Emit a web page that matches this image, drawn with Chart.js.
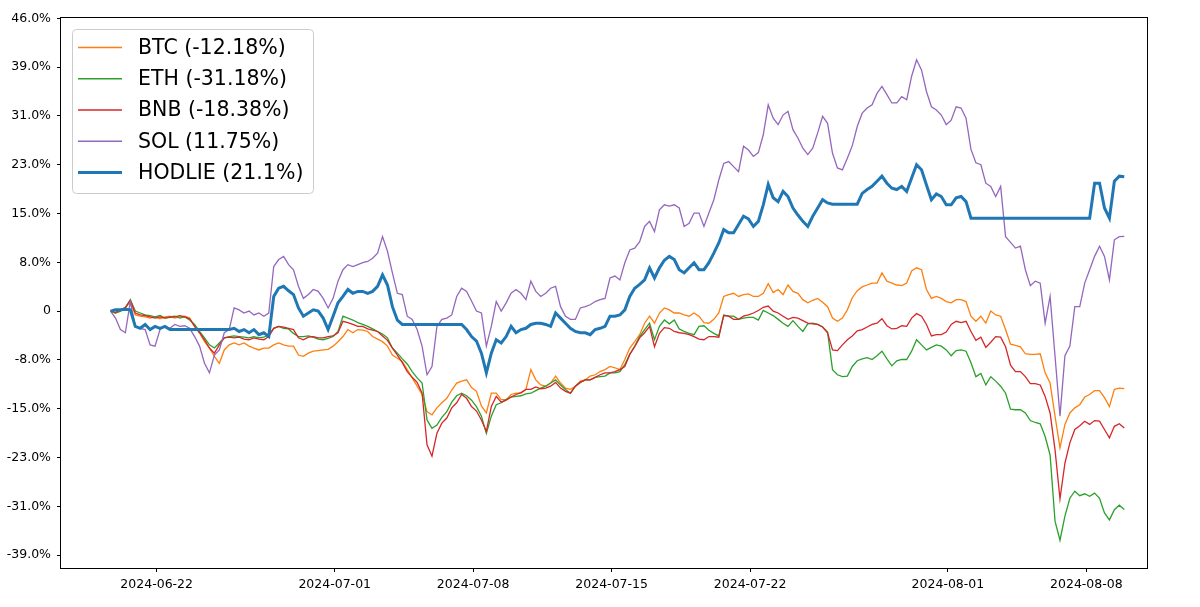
<!DOCTYPE html>
<html>
<head>
<meta charset="utf-8">
<title>HODLIE vs coins</title>
<script src="https://cdn.jsdelivr.net/npm/chart.js@4.4.1/dist/chart.umd.min.js"></script>
<style>
    html, body { margin: 0; padding: 0; background: #fff; }
    #wrap { width: 1200px; height: 607px; position: relative; }
</style>
</head>
<body>
<div id="wrap"><canvas id="perfChart"></canvas></div>
<script>
// one sample every 6 hours, first one 2024-06-19 16:00 UTC
const startTime = Date.UTC(2024, 5, 19, 16);
const stepHours = 6;

// cumulative return in %
const btc = [
    0, -0.3, 0, 0.5, 1.5, -0.6, -0.8, -0.9, -1.1, -0.9,
    -1.2, -0.9, -0.8, -1.1, -0.9, -0.8, -1.1, -2.4, -3.4, -4.8,
    -5.8, -7.1, -8.2, -6.1, -5.3, -5.0, -5.3, -5.0, -5.5, -5.8,
    -6.1, -5.8, -5.8, -5.3, -5.0, -5.3, -5.5, -5.5, -6.9, -7.1,
    -6.6, -6.3, -6.2, -6.1, -6.0, -5.5, -4.8, -4.0, -2.9, -3.4,
    -2.9, -3.0, -3.2, -4.0, -4.4, -4.8, -5.5, -6.9, -7.4, -7.9,
    -9.2, -10.5, -11.8, -13.1, -15.8, -16.3, -15.2, -14.4, -13.7, -12.4,
    -11.3, -11.0, -10.8, -12.0, -12.6, -14.9, -16.0, -12.9, -12.9, -13.9,
    -13.9, -13.1, -12.9, -12.9, -12.3, -9.2, -10.8, -11.6, -11.8, -11.3,
    -10.2, -11.3, -12.1, -12.3, -11.8, -11.0, -10.8, -10.2, -10.0, -9.5,
    -9.2, -8.7, -8.9, -9.2, -7.6, -5.8, -4.8, -3.7, -1.9, -0.8,
    -1.9, -0.3, 0.5, 0.2, -0.3, -0.3, -0.6, -0.8, -0.3, -0.8,
    -1.8, -1.9, -1.3, -0.3, 2.3, 2.6, 2.8, 2.3, 2.6, 2.7,
    2.3, 2.3, 2.8, 4.3, 2.9, 3.4, 2.6, 4.1, 3.1, 2.8,
    1.8, 1.3, 1.7, 2.0, 1.4, 0.7, -1.1, -1.6, -1.1, 0.2,
    2.1, 3.2, 3.8, 4.1, 4.4, 4.4, 6.0, 4.7, 4.4, 4.1,
    4.0, 4.4, 6.3, 6.8, 6.5, 3.4, 2.0, 2.3, 2.0, 1.5,
    1.3, 1.8, 1.8, 1.5, -0.8, -1.6, -0.8, -1.9, 0, -0.6,
    -0.8, -2.9, -5.2, -5.4, -5.6, -6.7, -6.8, -6.8, -6.7, -9.7,
    -11.3, -16.5, -21.5, -17.8, -16.0, -15.2, -14.7, -13.5, -13.1, -12.5,
    -12.5, -13.6, -15.0, -12.3, -12.1, -12.18
];

const eth = [
    0, -0.3, 0, 0.5, 1.8, 0, -0.3, -0.6, -0.7, -0.9,
    -0.7, -1.1, -0.9, -0.8, -1.1, -0.9, -1.4, -2.1, -3.2, -4.2,
    -5.3, -5.8, -5.0, -4.2, -4.0, -3.9, -4.0, -4.1, -4.2, -4.0,
    -4.2, -4.1, -3.7, -2.7, -2.4, -2.7, -2.8, -3.5, -4.0, -4.0,
    -3.9, -4.1, -4.4, -4.5, -4.3, -4.0, -3.2, -0.8, -1.1, -1.4,
    -1.8, -2.1, -2.4, -2.8, -3.2, -3.6, -4.2, -5.8, -6.6, -7.5,
    -8.3, -9.5, -10.5, -11.3, -17.1, -18.4, -17.9, -16.7, -15.8, -14.3,
    -13.3, -12.9, -13.3, -14.0, -15.0, -16.5, -19.2, -16.5, -14.7, -14.4,
    -13.9, -13.5, -13.4, -13.3, -13.0, -12.9, -12.5, -12.1, -11.8, -11.3,
    -10.8, -11.6, -12.3, -12.9, -11.8, -11.2, -10.8, -10.8, -10.4, -10.3,
    -10.2, -9.7, -9.7, -9.5, -8.4, -6.8, -5.5, -4.0, -2.9, -1.9,
    -4.5, -2.4, -1.4, -2.0, -1.4, -2.8, -3.2, -3.5, -3.7, -2.4,
    -2.3, -3.0, -3.5, -3.9, -0.6, -0.8, -0.8, -1.3, -1.1, -1.0,
    -1.0, -1.4, 0.1, -0.3, -0.7, -1.3, -1.9, -2.4, -1.5, -2.4,
    -3.2, -2.0, -1.9, -2.1, -2.5, -3.3, -9.2, -10.0, -10.3, -10.2,
    -8.7, -7.8, -7.5, -7.3, -7.6, -7.0, -6.3, -7.5, -8.6, -7.8,
    -7.6, -7.6, -6.3, -4.5, -5.3, -6.1, -5.7, -5.3, -5.5, -6.1,
    -7.0, -6.2, -6.1, -6.3, -8.1, -10.3, -9.8, -11.6, -10.3, -11.0,
    -11.8, -12.9, -15.4, -15.5, -15.5, -16.0, -17.2, -17.5, -17.7, -19.7,
    -22.6, -33.0, -36.0, -32.2, -29.4, -28.3, -29.0, -28.7, -29.1, -28.6,
    -29.4, -31.7, -32.8, -31.2, -30.5, -31.18
];

const bnb = [
    0, -0.2, 0.2, 0.6, 1.7, -0.3, -0.6, -0.7, -0.9, -1.1,
    -0.9, -1.1, -1.0, -0.9, -0.7, -0.9, -1.2, -2.4, -3.4, -4.5,
    -5.8, -6.6, -5.3, -4.2, -4.1, -4.2, -4.1, -4.4, -4.5, -4.2,
    -4.4, -4.5, -4.0, -2.7, -2.4, -2.5, -2.7, -2.9, -4.2, -4.5,
    -4.1, -4.0, -4.2, -4.2, -4.0, -3.9, -3.4, -1.6, -1.8, -2.1,
    -2.4, -2.4, -2.8, -3.0, -3.2, -3.9, -4.6, -5.8, -6.9, -8.1,
    -9.5, -10.4, -11.2, -12.9, -21.0, -22.8, -19.2, -17.6, -16.8, -15.2,
    -14.4, -13.1, -13.7, -15.0, -15.7, -17.1, -18.9, -15.0, -13.4, -14.3,
    -14.0, -13.5, -13.1, -12.8, -12.3, -12.3, -11.9, -12.2, -12.1, -11.8,
    -11.2, -12.1, -12.6, -12.9, -11.8, -11.2, -10.8, -10.8, -10.4, -10.0,
    -9.7, -9.7, -9.5, -9.2, -8.7, -6.8, -5.6, -4.2, -3.4, -2.4,
    -5.6, -3.5, -2.6, -2.7, -3.2, -3.4, -3.5, -3.7, -4.0, -4.4,
    -4.5, -4.0, -4.0, -4.1, -0.7, -0.8, -1.3, -1.3, -0.8, -0.6,
    -0.3, 0.1, 0.6, 0.8, 0, -0.3, -0.8, -1.3, -1.0, -1.1,
    -1.5, -1.9, -2.0, -2.1, -2.5, -3.4, -6.1, -6.2, -5.3, -4.5,
    -3.9, -3.1, -2.9, -2.5, -2.1, -1.9, -1.2, -2.3, -2.8, -2.7,
    -2.3, -2.4, -1.1, -0.4, -0.8, -2.1, -3.9, -3.7, -3.7, -3.3,
    -2.1, -1.6, -1.8, -1.6, -3.2, -4.6, -4.1, -5.7, -4.9, -4.0,
    -4.1, -5.6, -8.5, -9.5, -9.5, -10.3, -11.4, -11.4, -11.6, -13.4,
    -16.0, -21.8, -29.5, -23.9, -20.7, -18.6, -18.0, -17.3, -17.8, -17.2,
    -17.3, -18.6, -19.9, -18.1, -17.7, -18.38
];

const sol = [
    0, -1.1, -2.9, -3.4, 1.5, -2.4, -2.7, -2.9, -5.3, -5.5,
    -2.9, -2.4, -2.7, -2.1, -2.4, -2.3, -2.7, -4.0, -5.5, -8.2,
    -9.7, -6.9, -6.1, -3.4, -2.9, 0.5, 0.2, -0.3, 0, -0.6,
    -0.3, -0.8, -0.3, 7.0, 8.1, 8.6, 7.3, 6.5, 3.9, 2.0,
    2.6, 3.4, 3.1, 2.0, 0.5, 2.0, 4.7, 6.5, 7.3, 7.0,
    7.3, 7.6, 7.8, 8.3, 9.1, 11.7, 9.4, 6.0, 2.8, 2.6,
    -0.8, -1.3, -2.9, -5.5, -10.0, -8.7, -2.4, -1.3, -1.1, -0.6,
    2.3, 3.6, 3.1, 1.6, 0, -0.3, -5.5, -2.4, 1.5, 0,
    1.3, 2.8, 3.4, 2.8, 1.8, 4.7, 3.1, 2.3, 2.8, 3.6,
    3.9, 0.7, -0.8, -1.3, -1.3, 0.5, 0.7, 1.0, 1.5, 1.8,
    2.0, 5.2, 5.5, 4.9, 7.6, 9.6, 9.9, 10.9, 13.3, 14.1,
    12.5, 15.9, 16.7, 16.5, 16.7, 16.2, 13.3, 13.8, 15.4, 15.4,
    13.3, 15.4, 17.5, 20.6, 23.2, 23.5, 22.7, 21.9, 25.9, 25.3,
    24.3, 24.9, 27.7, 32.4, 30.3, 29.3, 30.8, 31.4, 28.5, 27.2,
    25.6, 24.6, 25.6, 28.0, 30.6, 29.5, 24.8, 22.5, 22.2, 24.0,
    26.0, 29.0, 31.1, 31.9, 32.4, 34.2, 35.3, 34.0, 32.7, 32.7,
    33.7, 33.2, 36.9, 39.5, 37.9, 34.5, 32.1, 31.6, 30.8, 29.3,
    30.0, 32.1, 31.9, 30.3, 25.4, 23.3, 23.0, 20.1, 19.6, 18.0,
    19.6, 11.7, 10.8, 9.9, 10.2, 6.5, 4.0, 4.7, 4.4, -1.9,
    2.3, -7.1, -16.5, -7.0, -5.5, 0.7, 0.7, 4.4, 6.5, 8.6,
    10.2, 8.6, 4.9, 11.2, 11.7, 11.75
];

const hodlie = [
    0, 0.2, 0.2, 0.3, 0.2, -2.4, -2.7, -2.1, -2.9, -2.4,
    -2.7, -2.4, -2.9, -2.9, -2.9, -2.9, -2.9, -2.9, -2.9, -2.9,
    -2.9, -2.9, -2.9, -2.9, -2.9, -2.7, -3.2, -2.9, -3.4, -2.9,
    -3.7, -3.4, -4.0, 2.3, 3.6, 3.9, 3.2, 2.6, 0.5, -0.8,
    -0.3, 0.2, 0, -1.1, -2.9, -0.8, 1.3, 2.3, 3.4, 2.8,
    3.1, 3.1, 2.8, 3.1, 3.9, 5.7, 4.1, 0.7, -1.4, -2.1,
    -2.1, -2.1, -2.1, -2.1, -2.1, -2.1, -2.1, -2.1, -2.1, -2.1,
    -2.1, -2.1, -2.9, -4.0, -4.7, -6.6, -9.7, -6.6, -4.5, -5.0,
    -4.0, -2.4, -3.4, -2.9, -2.7, -2.1, -1.9, -1.9, -2.1, -2.4,
    -0.3, -1.1, -1.9, -2.7, -3.2, -3.4, -3.4, -3.7, -2.9, -2.7,
    -2.4, -0.8, -0.8, -0.6, 0.2, 2.3, 3.6, 4.2, 4.9, 6.8,
    5.2, 6.8, 8.0, 8.6, 8.1, 6.5, 6.0, 6.8, 7.6, 6.5,
    6.5, 7.6, 9.1, 10.7, 12.8, 12.3, 12.3, 13.6, 14.9, 14.5,
    13.3, 14.1, 16.7, 19.9, 17.8, 17.2, 18.8, 18.0, 16.2, 15.1,
    14.1, 13.3, 14.9, 16.2, 17.5, 17.0, 16.8, 16.8, 16.8, 16.8,
    16.8, 16.8, 18.5, 19.1, 19.6, 20.4, 21.2, 20.1, 19.3, 19.1,
    19.6, 18.8, 20.9, 23.0, 22.2, 19.8, 17.5, 18.4, 18.0, 16.7,
    16.7, 17.8, 18.0, 17.2, 14.6, 14.6, 14.6, 14.6, 14.6, 14.6,
    14.6, 14.6, 14.6, 14.6, 14.6, 14.6, 14.6, 14.6, 14.6, 14.6,
    14.6, 14.6, 14.6, 14.6, 14.6, 14.6, 14.6, 14.6, 14.6, 20.1,
    20.1, 16.2, 14.6, 20.4, 21.2, 21.1
];

const seriesNames = ["BTC", "ETH", "BNB", "SOL", "HODLIE"];
const finalReturns = ["-12.18%", "-31.18%", "-18.38%", "11.75%", "21.1%"];

const xTickLabels = ["2024-06-22", "2024-07-01", "2024-07-08", "2024-07-15", "2024-07-22", "2024-08-01", "2024-08-08"];
const yTickValues = [46, 38.333, 30.667, 23, 15.333, 7.667, 0, -7.667, -15.333, -23, -30.667, -38.333];
const yTickLabels = ["46.0%", "39.0%", "31.0%", "23.0%", "15.0%", "8.0%", "0", "-8.0%", "-15.0%", "-23.0%", "-31.0%", "-39.0%"];

const colors = ["#ff7f0e", "#2ca02c", "#d62728", "#9467bd", "#1f77b4"];
const lineWidths = [1.3, 1.3, 1.3, 1.3, 3];

const DAY = 24 * 3600 * 1000;
const tick0 = Date.UTC(2024, 5, 22);

function toPoints(values) {
    return values.map((v, i) => ({ x: startTime + i * stepHours * 3600 * 1000, y: v }));
}

// matplotlib-like frame and legend box in the top left corner
const frameAndLegend = {
    id: "frameAndLegend",
    afterDraw(chart) {
        const ctx = chart.ctx;
        const area = chart.chartArea;
        ctx.save();

        ctx.strokeStyle = "#000";
        ctx.lineWidth = 1;
        ctx.strokeRect(Math.round(area.left) - 0.5, Math.round(area.top) - 0.5,
            Math.round(area.right - area.left) + 1, Math.round(area.bottom - area.top) + 1);

        const bx = area.left + 11;
        const by = area.top + 11;
        ctx.beginPath();
        ctx.roundRect(bx + 0.5, by + 0.5, 241, 164, 4);
        ctx.fillStyle = "rgba(255,255,255,0.8)";
        ctx.fill();
        ctx.strokeStyle = "#cccccc";
        ctx.stroke();

        ctx.font = '20.5px "DejaVu Sans"';
        ctx.textBaseline = "middle";
        ctx.textAlign = "left";
        chart.data.datasets.forEach((ds, i) => {
            const y = by + 18.5 + i * 31.25;
            ctx.beginPath();
            ctx.moveTo(bx + 6, y);
            ctx.lineTo(bx + 50, y);
            ctx.strokeStyle = ds.borderColor;
            ctx.lineWidth = ds.borderWidth;
            ctx.stroke();
            ctx.fillStyle = "#000";
            ctx.fillText(ds.label, bx + 66, y + 1);
        });

        ctx.restore();
    }
};

Chart.defaults.font.family = '"DejaVu Sans", sans-serif';
Chart.defaults.color = "#000";

const allSeries = [btc, eth, bnb, sol, hodlie];

new Chart(document.getElementById("perfChart"), {
    type: "line",
    data: {
        datasets: allSeries.map((values, i) => ({
            label: seriesNames[i] + " (" + finalReturns[i] + ")",
            data: toPoints(values),
            borderColor: colors[i],
            backgroundColor: colors[i],
            borderWidth: lineWidths[i],
            pointRadius: 0,
            tension: 0,
            fill: false,
            order: allSeries.length - i
        }))
    },
    options: {
        responsive: true,
        maintainAspectRatio: false,
        animation: false,
        layout: {
            padding: { top: 18, right: 53, left: 0, bottom: 0 }
        },
        plugins: {
            legend: { display: false },
            tooltip: { enabled: false }
        },
        scales: {
            x: {
                type: "linear",
                min: tick0 - 4.838 * DAY,
                max: tick0 + 50.066 * DAY,
                afterBuildTicks: scale => {
                    scale.ticks = xTickLabels.map(l => ({ value: Date.parse(l + "T00:00:00Z") }));
                },
                afterFit: scale => { scale.height = 39; },
                ticks: {
                    autoSkip: false,
                    maxRotation: 0,
                    padding: 5,
                    font: { size: 12.5 },
                    callback: (value, index) => xTickLabels[index]
                },
                grid: {
                    drawOnChartArea: false,
                    drawTicks: true,
                    tickLength: 4,
                    tickColor: "#000"
                },
                border: { display: false }
            },
            y: {
                min: -40.36,
                max: 46.05,
                afterBuildTicks: scale => {
                    scale.ticks = yTickValues.map(v => ({ value: v }));
                },
                afterFit: scale => { scale.width = 61; },
                ticks: {
                    autoSkip: false,
                    padding: 6,
                    font: { size: 12.5 },
                    callback: (value, index) => yTickLabels[index]
                },
                grid: {
                    drawOnChartArea: false,
                    drawTicks: true,
                    tickLength: 4,
                    tickColor: "#000"
                },
                border: { display: false }
            }
        }
    },
    plugins: [frameAndLegend]
});
</script>
</body>
</html>
